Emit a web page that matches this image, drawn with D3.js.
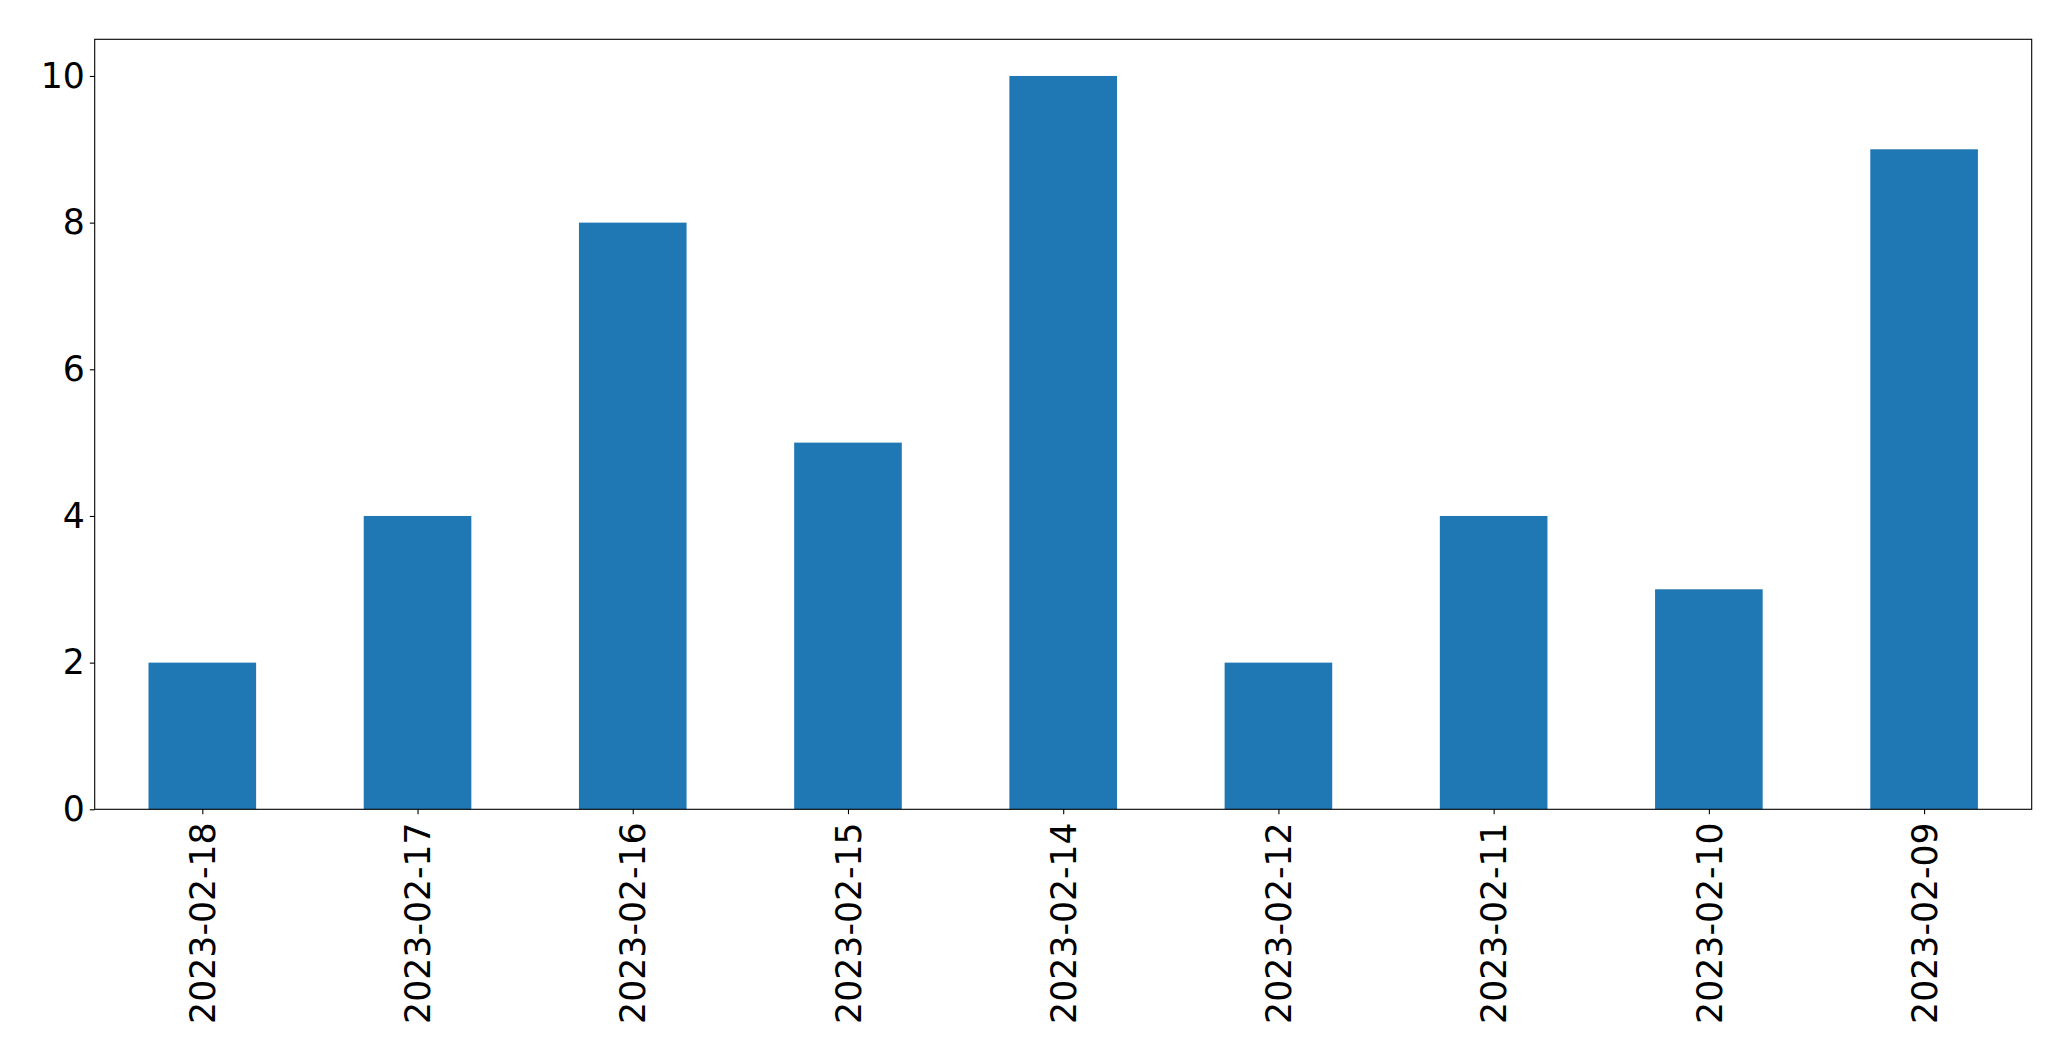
<!DOCTYPE html>
<html>
<head>
<meta charset="utf-8">
<script src="https://cdn.jsdelivr.net/npm/d3@7"></script>
<style>
html, body { margin: 0; padding: 0; background: #fff; }
svg { display: block; }
text { font-family: "DejaVu Sans", sans-serif; fill: #000; }
</style>
</head>
<body>
<svg id="chart" width="2071" height="1061"></svg>
<script>
const categories = ["2023-02-18","2023-02-17","2023-02-16","2023-02-15","2023-02-14","2023-02-12","2023-02-11","2023-02-10","2023-02-09"];
const values = [2, 4, 8, 5, 10, 2, 4, 3, 9];
const yTicks = [0, 2, 4, 6, 8, 10];

(function () {
const svg = d3.select("#chart");
const mLeft = 94.7, mRight = 2031.7, mTop = 39.3, mBottom = 809.3;
const fontSize = 34.7;

const x = d3.scaleLinear().domain([-0.5, categories.length - 0.5]).range([mLeft, mRight]);
const y = d3.scaleLinear().domain([0, 10.5]).range([mBottom, mTop]);

// bars
svg.append("g").selectAll("rect").data(values).join("rect")
  .attr("x", (d, i) => x(i - 0.25))
  .attr("width", (d, i) => x(i + 0.25) - x(i - 0.25))
  .attr("y", d => y(d))
  .attr("height", d => y(0) - y(d))
  .attr("fill", "#1f77b4");

// y axis
const yAxis = d3.axisLeft(y).tickValues(yTicks).tickSize(4.9).tickPadding(4.9).tickFormat(d3.format("d"));
const gy = svg.append("g").attr("transform", `translate(${mLeft},0)`).call(yAxis);
gy.select(".domain").remove();
gy.selectAll(".tick line").attr("stroke", "#000").attr("stroke-width", 1.1);
gy.selectAll(".tick text").style("font-size", fontSize + "px").attr("font-family", "DejaVu Sans");

// x axis
const xAxis = d3.axisBottom(x).tickValues(d3.range(categories.length)).tickSize(4.9).tickFormat(i => categories[i]);
const gx = svg.append("g").attr("transform", `translate(0,${mBottom})`).call(xAxis);
gx.select(".domain").remove();
gx.selectAll(".tick line").attr("stroke", "#000").attr("stroke-width", 1.1);
gx.selectAll(".tick text")
  .style("font-size", fontSize + "px")
  .attr("font-family", "DejaVu Sans")
  .attr("text-anchor", "end")
  .attr("y", 0)
  .attr("dy", "0.35em")
  .attr("transform", "translate(0,13) rotate(-90)");

// frame
svg.append("rect")
  .attr("x", mLeft).attr("y", mTop)
  .attr("width", mRight - mLeft).attr("height", mBottom - mTop)
  .attr("fill", "none").attr("stroke", "#000").attr("stroke-width", 1.1);
})();
</script>
</body>
</html>
